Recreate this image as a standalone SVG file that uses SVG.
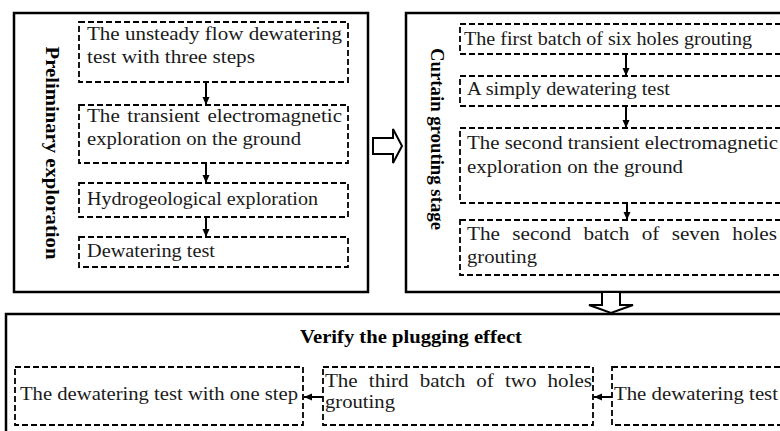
<svg xmlns="http://www.w3.org/2000/svg" width="780" height="431" viewBox="0 0 780 431">
<defs>
<marker id="ah" markerUnits="userSpaceOnUse" markerWidth="8" markerHeight="8" refX="8" refY="4" orient="auto">
<path d="M0,0.5 L8,4 L0,7.5 Z" fill="#000"/>
</marker>
<style>
.panel{fill:#fff;stroke:#000;stroke-width:2.5}
.box{fill:none;stroke:#000;stroke-width:1.8;stroke-dasharray:6,3}
.t{font-family:"Liberation Serif","Times New Roman",serif;font-size:18px;fill:#1a1a1a}
.b{font-family:"Liberation Serif","Times New Roman",serif;font-size:18px;font-weight:bold;fill:#000}
.c{stroke:#000;stroke-width:2;fill:none;marker-end:url(#ah)}
.hollow{fill:#fff;stroke:#000;stroke-width:2}
</style>
</defs>
<rect width="780" height="431" fill="#fff"/>

<g id="panel-preliminary">
<rect class="panel" x="14" y="13" width="354" height="279"/>
<text class="b" transform="translate(46,153) rotate(90)" text-anchor="middle" textLength="213" lengthAdjust="spacingAndGlyphs">Preliminary exploration</text>
</g>
<g id="panel-curtain">
<rect class="panel" x="406" y="13" width="400" height="279"/>
<text class="b" transform="translate(431,139) rotate(90)" text-anchor="middle" textLength="182" lengthAdjust="spacingAndGlyphs">Curtain grouting stage</text>
</g>
<g id="panel-verify">
<rect class="panel" x="6" y="314" width="800" height="140"/>
<text class="b" x="300" y="343" textLength="222" lengthAdjust="spacingAndGlyphs">Verify the plugging effect</text>
</g>

<g id="p1">
<rect class="box" x="79" y="22" width="269" height="60"/>
<text class="t" x="87" y="40" textLength="255" lengthAdjust="spacingAndGlyphs">The unsteady flow dewatering</text>
<text class="t" x="87" y="63" textLength="168" lengthAdjust="spacingAndGlyphs">test with three steps</text>
</g>
<g id="p2">
<rect class="box" x="79" y="105" width="269" height="58"/>
<text class="t" x="87" y="122" textLength="255" lengthAdjust="spacingAndGlyphs" word-spacing="2">The transient electromagnetic</text>
<text class="t" x="87" y="145" textLength="214" lengthAdjust="spacingAndGlyphs">exploration on the ground</text>
</g>
<g id="p3">
<rect class="box" x="79" y="183" width="269" height="34"/>
<text class="t" x="87" y="205" textLength="231" lengthAdjust="spacingAndGlyphs">Hydrogeological exploration</text>
</g>
<g id="p4">
<rect class="box" x="79" y="237" width="269" height="30"/>
<text class="t" x="87" y="257" textLength="128" lengthAdjust="spacingAndGlyphs">Dewatering test</text>
</g>

<g id="c1">
<rect class="box" x="460" y="24" width="330" height="30"/>
<text class="t" x="464" y="45" textLength="288" lengthAdjust="spacingAndGlyphs">The first batch of six holes grouting</text>
</g>
<g id="c2">
<rect class="box" x="460" y="76" width="330" height="30"/>
<text class="t" x="467" y="95" textLength="203" lengthAdjust="spacingAndGlyphs">A simply dewatering test</text>
</g>
<g id="c3">
<rect class="box" x="460" y="128" width="330" height="75"/>
<text class="t" x="467" y="149" textLength="311" lengthAdjust="spacingAndGlyphs">The second transient electromagnetic</text>
<text class="t" x="467" y="173" textLength="216" lengthAdjust="spacingAndGlyphs">exploration on the ground</text>
</g>
<g id="c4">
<rect class="box" x="460" y="220" width="330" height="55"/>
<text class="t" x="467" y="240" textLength="310" lengthAdjust="spacingAndGlyphs" word-spacing="6">The second batch of seven holes</text>
<text class="t" x="467" y="263" textLength="70" lengthAdjust="spacingAndGlyphs">grouting</text>
</g>

<g id="v1">
<rect class="box" x="15" y="367" width="288" height="58"/>
<text class="t" x="20" y="400" textLength="278" lengthAdjust="spacingAndGlyphs">The dewatering test with one step</text>
</g>
<g id="v2">
<rect class="box" x="323" y="367" width="270" height="58"/>
<text class="t" x="325" y="387" textLength="267" lengthAdjust="spacingAndGlyphs" word-spacing="5">The third batch of two holes</text>
<text class="t" x="325" y="408" textLength="70" lengthAdjust="spacingAndGlyphs">grouting</text>
</g>
<g id="v3">
<rect class="box" x="612" y="367" width="178" height="58"/>
<text class="t" x="614" y="400" textLength="164" lengthAdjust="spacingAndGlyphs">The dewatering test</text>
</g>

<g id="connectors">
<line class="c" x1="206" y1="82" x2="206" y2="105"/>
<line class="c" x1="206" y1="163" x2="206" y2="183"/>
<line class="c" x1="206" y1="217" x2="206" y2="237"/>
<line class="c" x1="626" y1="54" x2="626" y2="76"/>
<line class="c" x1="626" y1="106" x2="626" y2="128"/>
<line class="c" x1="627" y1="203" x2="627" y2="220"/>
<line class="c" x1="323" y1="397" x2="304" y2="397"/>
<line class="c" x1="612" y1="397" x2="594" y2="397"/>
<path class="hollow" d="M373,138 L393,138 L393,129 L402,146 L393,163 L393,154 L373,154 Z"/>
<path class="hollow" d="M602,292 L620,292 L620,305 L633,305 L611,313 L589,305 L602,305 Z"/>
</g>
</svg>
